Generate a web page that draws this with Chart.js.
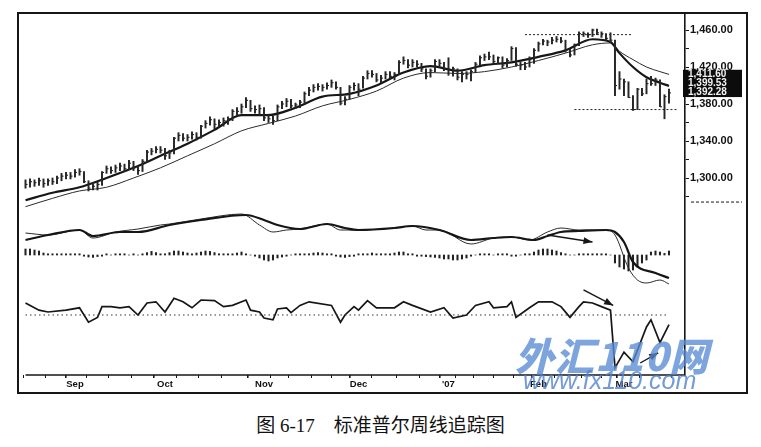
<!DOCTYPE html>
<html>
<head>
<meta charset="utf-8">
<title>标准普尔周线追踪图</title>
<script src="https://cdn.jsdelivr.net/npm/chart.js@4.4.1/dist/chart.umd.min.js"></script>
<style>
  html, body { margin: 0; padding: 0; background: #fff; }
  #wrap { position: relative; width: 761px; height: 447px; overflow: hidden; }
  #c { position: absolute; left: 0; top: 0; }
  #caption {
    position: absolute; left: 0; top: 410px; width: 761px; text-align: center;
    font-family: "Liberation Serif", "Noto Sans CJK SC", serif; font-size: 19px; color: #111;
  }
  #wm1, #wm2 { position: absolute; pointer-events: none; white-space: nowrap; }
  #wm1 {
    left: 515px; top: 326px; font-family: "Noto Sans CJK SC", sans-serif; font-weight: 900;
    font-style: italic; font-size: 39px; color: rgba(88, 138, 212, 0.78); letter-spacing: 1px;
  }
  #wm2 {
    left: 523px; top: 366px; font-family: "Liberation Sans", Arial, sans-serif;
    font-style: italic; font-size: 25px; color: rgba(80, 130, 208, 0.8);
  }
</style>
</head>
<body>
<div id="wrap">
  <canvas id="c" width="761" height="400"></canvas>
  <div id="caption">图 6-17&emsp;标准普尔周线追踪图</div>
  <div id="wm1">外汇110网</div>
  <div id="wm2">www.fx110.com</div>
</div>
<script>
// daily bars, index 0 = mid Aug 2006 ... 143 = mid Mar 2007
const priceHigh = [
  1298,1299,1298,1300,1299,1299,1300,1302,1305,1306,1306,1309,
  1310,1307,1297,1295,1296,1307,1313,1312,1314,1316,1315,1319,
  1318,1313,1320,1330,1332,1334,1334,1332,1330,1344,1349,1348,
  1347,1350,1349,1357,1362,1366,1364,1363,1365,1366,1374,1376,
  1380,1387,1384,1378,1379,1376,1369,1367,1379,1383,1386,1385,
  1381,1384,1393,1398,1401,1402,1401,1403,1406,1404,1398,1388,
  1400,1403,1402,1410,1416,1416,1413,1411,1415,1415,1414,1427,
  1431,1428,1428,1427,1424,1418,1418,1428,1428,1425,1430,1420,
  1418,1415,1415,1417,1425,1432,1434,1436,1433,1431,1431,1429,
  1442,1441,1425,1425,1431,1440,1447,1450,1449,1452,1453,1452,
  1449,1439,1445,1458,1458,1457,1461,1461,1458,1456,1457,1449,
  1415,1407,1404,1389,1397,1397,1407,1410,1408,1406,1390,1396
];
const priceLow = [
  1289,1290,1291,1292,1290,1292,1293,1294,1297,1299,1299,1301,
  1303,1295,1286,1287,1287,1292,1305,1305,1306,1308,1307,1309,
  1308,1304,1307,1317,1325,1327,1327,1320,1321,1326,1340,1340,
  1340,1342,1341,1343,1354,1357,1353,1355,1356,1358,1362,1368,
  1370,1376,1372,1370,1368,1362,1360,1358,1362,1375,1377,1376,
  1375,1376,1380,1389,1393,1395,1394,1396,1398,1396,1379,1379,
  1385,1395,1389,1397,1407,1409,1404,1403,1407,1407,1406,1412,
  1423,1419,1420,1420,1415,1407,1409,1415,1421,1416,1411,1410,
  1406,1404,1407,1405,1414,1422,1427,1428,1424,1424,1419,1420,
  1427,1421,1417,1417,1420,1424,1437,1444,1443,1445,1447,1446,
  1436,1431,1433,1443,1453,1452,1453,1455,1452,1449,1447,1389,
  1396,1389,1387,1373,1374,1389,1391,1400,1400,1377,1364,1381
];
const priceClose = [
  1293,1296,1295,1297,1294,1297,1296,1300,1302,1303,1302,1306,
  1307,1296,1289,1291,1293,1306,1310,1308,1311,1313,1310,1316,
  1311,1308,1318,1328,1329,1331,1330,1324,1327,1343,1346,1343,
  1344,1347,1344,1356,1359,1363,1358,1360,1362,1364,1372,1372,
  1377,1384,1375,1374,1375,1365,1364,1362,1377,1380,1383,1378,
  1379,1382,1391,1395,1398,1399,1398,1400,1403,1398,1381,1385,
  1398,1400,1396,1408,1413,1412,1406,1408,1412,1410,1412,1425,
  1427,1422,1425,1423,1418,1410,1416,1426,1424,1418,1417,1418,
  1409,1412,1412,1415,1423,1430,1431,1431,1426,1430,1422,1427,
  1440,1423,1422,1420,1428,1438,1445,1448,1447,1449,1450,1448,
  1438,1433,1444,1456,1456,1455,1460,1457,1456,1451,1449,1400,
  1407,1404,1387,1374,1396,1391,1402,1402,1406,1377,1388,1392
];

// moving averages read at these bar positions
const maIdx  = [0,6,12,18,24,30,36,42,48,54,60,66,72,78,84,90,96,102,108,114,120,126,130,132,135,138,141,143];
const maFast = [1276,1284,1290,1300,1311,1324,1337,1352,1368,1368,1376,1388,1391,1400,1414,1421,1416,1422,1425,1431,1438,1450,1447,1435,1420,1409,1403,1399.5];
const maSlow = [1269,1278,1286,1290,1300,1311,1324,1337,1351,1359,1367,1378,1385,1394,1408,1414,1413,1415,1420,1427,1435,1444,1446,1437,1428,1420,1415,1412];

// MACD panel
const macdIdx  = [0,5,12,15,20,25,30,32,39,48,52,55,58,61,67,70,74,82,86,89,92,99,104,108,112,116,119,123,129,131,134,136,138,141,143];
const macdLine = [11,10,12.5,8.5,11.5,13,15,15.5,18,20.5,15,11.5,12.5,13,15.5,12.5,12.5,13.5,14.5,12.5,12.5,5.5,8.5,9,7.5,11.5,13.5,12.5,12.5,10,-6.5,-12.5,-14,-12.5,-14.5];
const signalIdx  = [0,5,12,15,21,25,32,39,49,53,56,61,67,71,74,82,86,92,99,104,108,113,116,119,123,129,131,133,135,140,143];
const signalLine = [7.5,10,12.5,9.5,11.5,11.5,15,17.5,20,17.5,15,13,15.5,13.5,12.5,13.5,14.5,12.5,7.5,8.5,9,7.5,9.5,11.5,12,12.5,11.5,6.5,-3.5,-9,-11.5];
const histVals = [
  3,3,2.5,2,
  1,0.6,0.6,0.6,0.6,0.6,0.6,0.6,0.6,
  -0.6,-1,-1.2,-0.8,-0.6,
  0.6,0,0.6,0.6,0.6,0,0.6,
  0,0.6,1.2,1.8,1.2,0.6,
  0.6,1.2,2,2,1.5,1,0.6,
  1,1.5,2,1.8,1.2,0.6,0.6,
  0.6,0.6,1,1.5,0.6,0,-0.6,
  -1.5,-2.5,-3,-2.5,-1.5,-1,-0.6,
  0,0.6,0.6,0.6,0.6,1,1.2,
  1,0.6,0.6,-0.6,-1,-1.2,-0.8,
  -0.6,0.6,0.6,0.6,1,0.6,0.6,
  0.6,0.6,1,1.5,1.5,0.6,0.6,
  -0.6,-0.6,-0.8,-1,-1.2,-1.5,-2,
  -2,-2.5,-2.5,-2,-1.5,-0.6,0,
  0.6,0.6,0.6,0,0.6,0.6,0.6,
  -0.6,-0.6,0,0.6,0.6,1.5,2.5,
  3,3,2.5,2,1.2,0.6,0,
  0,0.6,0.6,0.6,0.6,0.6,0.6,
  0.6,0,-4,-6,-7,-8,-7.5,
  -6,-4,-2.5,1.5,2,1.5,0.8,2
];

// oscillator panel
const oscIdx  = [0,3,5,9,12,14,16,17,19,21,23,25,27,29,31,33,35,37,39,42,44,46,49,50,52,53,55,56,58,59,61,63,68,70,71,73,74,76,78,82,84,86,90,93,95,98,100,103,104,107,108,109,112,114,117,119,121,123,124,126,128,130,131,133,135,138,139,141,143];
const oscVals = [60,54,52.5,54,56,44,48,57,57,56,57,50,60,61,52.5,64,61,56,62.5,62,57,58,62.5,54,52.5,47.5,46,55,56,52,58,61,58,44,50,57,54,62,56,56,61,58,52.5,56,47.5,50,58,61,56,57,61,48,56,61,61,57,48,57,61,60,57,54,6,19,11,40,46,27,42];
const oscMid = 50;

// axes
const monthIdx = [11,31,53,74,94,114,133];
const monthNames = ['Sep','Oct','Nov','Dec',"'07",'Feb','Mar'];
const weekIdx = [2,7,16,21,26,36,41,46,56,61,66,70,80,85,90,97,102,106,111,121,126,130,140];
const priceTicks = [1280,1300,1320,1340,1360,1380,1400,1420,1440,1460];
const priceLabelled = [1300,1340,1380,1420,1460];
const lastLabels = ['1,411.60','1,399.53','1,392.28'];

// drawn-in levels and arrows
const resistLevel = 1455, resistSpan = [111, 135];
const supportLevel = 1374, supportSpan = [122, 145];
const arrows = [
  { axis: 'yM', from: [116, 10], to: [126, 6.5] },
  { axis: 'yO', from: [124, 71], to: [130.6, 58] },
  { axis: 'yO', from: [136.6, 10], to: [140.6, 18.5] }
];

const allTicks = weekIdx.concat(monthIdx).sort((a, b) => a - b);
const pts = (idx, vals) => idx.map((x, k) => ({ x: x, y: vals[k] }));
const INK = '#161616';

const decor = {
  id: 'decor',
  afterDatasetsDraw(chart) {
    const { ctx, chartArea: a, scales } = chart;
    const x = scales.x, yP = scales.yP;
    ctx.save();
    // time axis line
    ctx.strokeStyle = INK; ctx.lineWidth = 1.5;
    ctx.beginPath();
    ctx.moveTo(x.getPixelForValue(0), a.bottom);
    ctx.lineTo(a.right, a.bottom);
    ctx.stroke();
    // arrows
    arrows.forEach(ar => {
      const ys = scales[ar.axis];
      const x1 = x.getPixelForValue(ar.from[0]), y1 = ys.getPixelForValue(ar.from[1]);
      const x2 = x.getPixelForValue(ar.to[0]), y2 = ys.getPixelForValue(ar.to[1]);
      const ang = Math.atan2(y2 - y1, x2 - x1);
      ctx.lineWidth = 1.4;
      ctx.beginPath(); ctx.moveTo(x1, y1); ctx.lineTo(x2, y2); ctx.stroke();
      ctx.fillStyle = INK;
      ctx.beginPath();
      ctx.moveTo(x2, y2);
      ctx.lineTo(x2 - 9 * Math.cos(ang) + 3.5 * Math.sin(ang), y2 - 9 * Math.sin(ang) - 3.5 * Math.cos(ang));
      ctx.lineTo(x2 - 9 * Math.cos(ang) - 3.5 * Math.sin(ang), y2 - 9 * Math.sin(ang) + 3.5 * Math.cos(ang));
      ctx.closePath(); ctx.fill();
    });
    // dashed panel separator beside the price scale
    const ySep = yP.getPixelForValue(1274);
    ctx.setLineDash([3, 2]); ctx.lineWidth = 1;
    ctx.beginPath(); ctx.moveTo(a.right + 6, ySep); ctx.lineTo(a.right + 57, ySep); ctx.stroke();
    ctx.setLineDash([]);
    // last value box
    const bTop = yP.getPixelForValue(1417), bBot = yP.getPixelForValue(1387.5);
    ctx.fillStyle = '#0c0c0c';
    ctx.fillRect(a.right - 2, bTop, 59, bBot - bTop);
    ctx.fillStyle = '#f2f2f2';
    ctx.font = 'bold 10px "Liberation Sans", Arial, sans-serif';
    ctx.textBaseline = 'middle'; ctx.textAlign = 'left';
    const step = (bBot - bTop) / lastLabels.length;
    lastLabels.forEach((t, k) => ctx.fillText(t, a.right + 3, bTop + step * (k + 0.5)));
    // outer frame
    ctx.strokeStyle = INK; ctx.lineWidth = 2;
    ctx.strokeRect(a.left, a.top - 1, a.right + 62 - a.left, chart.height - 7 - (a.top - 1));
    ctx.restore();
  }
};

Chart.defaults.font.family = '"Liberation Sans", Arial, sans-serif';

new Chart(document.getElementById('c'), {
  type: 'bar',
  data: {
    datasets: [
      { type: 'bar', xAxisID: 'x', yAxisID: 'yP', grouped: false,
        data: priceHigh.map((h, i) => ({ x: i, y: [priceLow[i], h] })),
        backgroundColor: '#262626', barThickness: 1.3 },
      { type: 'line', xAxisID: 'x', yAxisID: 'yP', showLine: false,
        data: priceClose.map((c, i) => ({ x: i, y: c })),
        pointStyle: 'dash', pointRadius: 2, pointBorderWidth: 1.1, pointBorderColor: '#262626' },
      { type: 'line', xAxisID: 'x', yAxisID: 'yP', data: pts(maIdx, maFast),
        borderColor: INK, borderWidth: 2.2, pointRadius: 0, cubicInterpolationMode: 'monotone' },
      { type: 'line', xAxisID: 'x', yAxisID: 'yP', data: pts(maIdx, maSlow),
        borderColor: '#2a2a2a', borderWidth: 1, pointRadius: 0, cubicInterpolationMode: 'monotone' },
      { type: 'line', xAxisID: 'x', yAxisID: 'yP',
        data: [{ x: resistSpan[0], y: resistLevel }, { x: resistSpan[1], y: resistLevel }],
        borderColor: '#222', borderWidth: 1, borderDash: [2, 2], pointRadius: 0 },
      { type: 'line', xAxisID: 'x', yAxisID: 'yP',
        data: [{ x: supportSpan[0], y: supportLevel }, { x: supportSpan[1], y: supportLevel }],
        borderColor: '#222', borderWidth: 1, borderDash: [2, 2], pointRadius: 0 },
      { type: 'line', xAxisID: 'x', yAxisID: 'yM', data: pts(signalIdx, signalLine),
        borderColor: INK, borderWidth: 2.2, pointRadius: 0, cubicInterpolationMode: 'monotone' },
      { type: 'line', xAxisID: 'x', yAxisID: 'yM', data: pts(macdIdx, macdLine),
        borderColor: '#2a2a2a', borderWidth: 1, pointRadius: 0, cubicInterpolationMode: 'monotone' },
      { type: 'bar', xAxisID: 'x', yAxisID: 'yM', grouped: false,
        data: histVals.map((v, i) => ({ x: i, y: v })),
        backgroundColor: '#222', barThickness: 1.4 },
      { type: 'line', xAxisID: 'x', yAxisID: 'yO',
        data: [{ x: 0, y: oscMid }, { x: priceClose.length - 1, y: oscMid }],
        borderColor: '#333', borderWidth: 1, borderDash: [1.5, 3], pointRadius: 0 },
      { type: 'line', xAxisID: 'x', yAxisID: 'yO', data: pts(oscIdx, oscVals),
        borderColor: INK, borderWidth: 1.7, pointRadius: 0, tension: 0 }
    ]
  },
  options: {
    responsive: false,
    animation: false,
    devicePixelRatio: 1,
    layout: { padding: { left: 18, right: 14, top: 14, bottom: 7 } },
    plugins: { legend: { display: false }, tooltip: { enabled: false } },
    scales: {
      x: {
        type: 'linear', min: -1.667, max: 146.56, offset: false,
        afterFit: s => { s.height = 18; },
        afterBuildTicks: s => { s.ticks = allTicks.map(v => ({ value: v })); },
        ticks: {
          autoSkip: false, maxRotation: 0, padding: 1, color: '#111',
          font: { size: 9.5, weight: 'bold' },
          callback: v => { const k = monthIdx.indexOf(v); return k >= 0 ? monthNames[k] : ''; }
        },
        grid: {
          drawOnChartArea: false, tickLength: 3, color: INK,
          lineWidth: c => (c.tick && monthIdx.includes(c.tick.value)) ? 1.6 : 1
        },
        border: { display: false }
      },
      yP: {
        type: 'linear', position: 'right', min: 1087.03, max: 1477.3,
        afterFit: s => { s.width = 62; },
        afterBuildTicks: s => { s.ticks = priceTicks.map(v => ({ value: v })); },
        ticks: {
          autoSkip: false, padding: 1, color: '#111',
          font: { size: 11, weight: 'bold' },
          callback: v => priceLabelled.includes(v)
            ? v.toLocaleString('en-US', { minimumFractionDigits: 2, maximumFractionDigits: 2 }) : ''
        },
        grid: { drawOnChartArea: false, tickLength: 4, color: INK },
        border: { display: true, color: INK, width: 1.6 }
      },
      yM: { type: 'linear', display: false, min: -60, max: 120.5 },
      yO: { type: 'linear', display: false, min: 0, max: 300.83 }
    }
  },
  plugins: [decor]
});
</script>
</body>
</html>
